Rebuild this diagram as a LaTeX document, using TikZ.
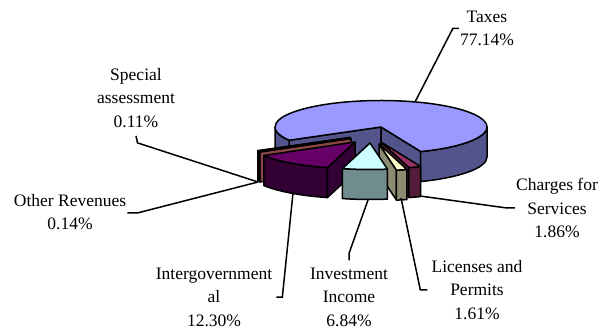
\documentclass[tikz,border=0pt]{standalone}
\usepackage{fontspec}
\setmainfont{Liberation Serif}
\usepackage{tikz}
\usetikzlibrary{calc}

\definecolor{taxes}{HTML}{9999FF}
\definecolor{charges}{HTML}{993366}
\definecolor{licenses}{HTML}{FFFFCC}
\definecolor{invest}{HTML}{CCFFFF}
\definecolor{intgov}{HTML}{660066}
\definecolor{otherrev}{HTML}{FF8080}
\definecolor{special}{HTML}{0066CC}

% pieces of one slice: apex, angles, colour
\newcommand{\cutface}[3]{%
  \filldraw[face, fill=#3] (#1) -- ($(#1)+(#2:106 and 26.5)$) -- ++(0,-30)
    -- ($(#1)+(0,-30)$) -- cycle;}
\newcommand{\outwall}[4]{%
  \filldraw[face, fill=#4] ($(#1)+(#2:106 and 26.5)$)
    arc[start angle=#2, end angle=#3, x radius=106, y radius=26.5] -- ++(0,-30)
    arc[start angle=#3, end angle=#2, x radius=106, y radius=26.5] -- cycle;}
\newcommand{\toppie}[4]{%
  \filldraw[face, fill=#4] (#1) -- ($(#1)+(#2:106 and 26.5)$)
    arc[start angle=#2, end angle=#3, x radius=106, y radius=26.5] -- cycle;}

\begin{document}
\begin{tikzpicture}[
    x = 1pt, y = 1pt,
    face/.style = {draw=black, line width=1.5pt, line join=round},
    lbl/.style = {align=center, inner sep=1pt,
        font=\fontsize{17.5}{23.5}\selectfont},
    leader/.style = {draw, line width=1.5pt}
  ]
  \useasboundingbox (0,0) rectangle (600,-331);

  % apexes of the slices
  \coordinate (taxesC) at (381,-127);
  \coordinate (specialC) at (350,-137.5);
  \coordinate (otherC) at (351,-138.5);
  \coordinate (intgovC) at (355,-142);
  \coordinate (chargesC) at (381,-142);
  \coordinate (licensesC) at (379,-144);
  \coordinate (investC) at (370,-143);

  % Taxes
  \cutface{taxesC}{210}{taxes!55!black}
  \cutface{taxesC}{-68}{taxes!55!black}
  \outwall{taxesC}{180}{210}{taxes!55!black}
  \outwall{taxesC}{-68}{0}{taxes!55!black}
  \toppie{taxesC}{-68}{210}{taxes}

  % Special assessment and Other Revenues
  \cutface{specialC}{-149.9}{special!55!black}
  \outwall{specialC}{-150.3}{-149.9}{special!55!black}
  \toppie{specialC}{-150.3}{-149.9}{special}
  \cutface{otherC}{-149.4}{otherrev!55!black}
  \outwall{otherC}{-149.9}{-149.4}{otherrev!55!black}
  \toppie{otherC}{-149.9}{-149.4}{otherrev}

  % Intergovernmental
  \cutface{intgovC}{-105.1}{intgov!50!black}
  \outwall{intgovC}{-149.4}{-105.1}{intgov!50!black}
  \toppie{intgovC}{-149.4}{-105.1}{intgov}

  % Charges for Services
  \cutface{chargesC}{-74.7}{charges!55!black}
  \outwall{chargesC}{-74.7}{-68}{charges!55!black}
  \toppie{chargesC}{-74.7}{-68}{charges}

  % Licenses and Permits
  \cutface{licensesC}{-80.5}{licenses!55!black}
  \outwall{licensesC}{-80.5}{-74.7}{licenses!55!black}
  \toppie{licensesC}{-80.5}{-74.7}{licenses}

  % Investment Income
  \outwall{investC}{-105.1}{-80.5}{invest!55!black}
  \toppie{investC}{-105.1}{-80.5}{invest}

  % labels
  \node[lbl] (taxesL) at (487,-28.5) {Taxes\\77.14\%};
  \node[lbl] (specialL) at (136,-98) {Special\\assessment\\0.11\%};
  \node[lbl] (otherL) at (70,-212) {Other Revenues\\0.14\%};
  \node[lbl] (intgovL) at (214,-297) {Intergovernment\\al\\12.30\%};
  \node[lbl] (investL) at (349,-297) {Investment\\Income\\6.84\%};
  \node[lbl] (licensesL) at (477,-290) {Licenses and\\Permits\\1.61\%};
  \node[lbl] (chargesL) at (557,-208) {Charges for\\Services\\1.86\%};

  % leader lines
  \coordinate (taxesP) at (415,-102);
  \coordinate (otherP) at (258,-182);
  \coordinate (intgovP) at (293,-193);
  \coordinate (investP) at (368,-200);
  \coordinate (licensesP) at (401,-198);
  \coordinate (chargesP) at (420,-196);

  \draw[leader] (taxesL.west) -- ++(-6,0) -- (taxesP);
  \draw[leader] ([yshift=-7pt]specialL.south) -- ++(1.5,-7) -- (otherP);
  \draw[leader] ([yshift=-1pt]otherL.east) -- ++(10,0) -- (otherP);
  \draw[leader] ([xshift=3pt]intgovL.east) -- ++(6,0) -- (intgovP);
  \draw[leader] ([yshift=6pt]investL.north) -- ++(0,7) -- (investP);
  \draw[leader] ([xshift=-3pt]licensesL.west) -- ++(-7,0) -- (licensesP);
  \draw[leader] (chargesL.west) -- ++(-8,0) -- (chargesP);
\end{tikzpicture}
\end{document}
